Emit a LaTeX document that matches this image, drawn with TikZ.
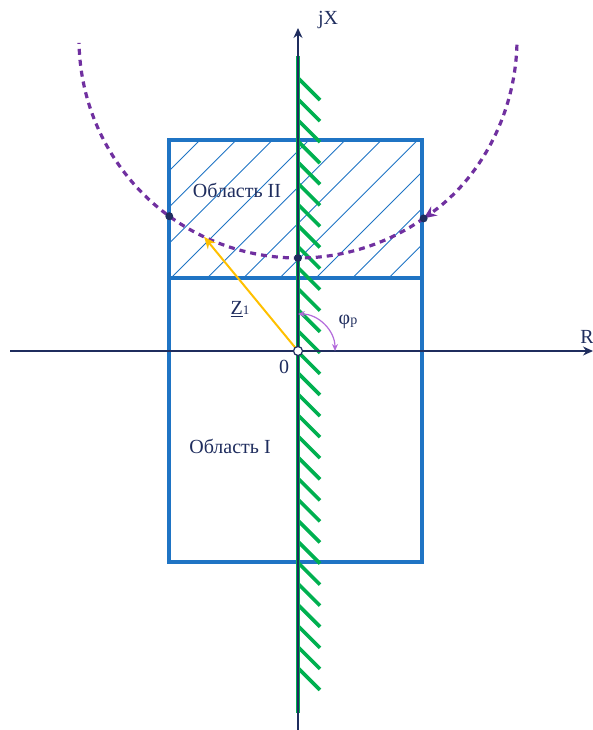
\documentclass[tikz,border=0pt]{standalone}
\usepackage{fontspec}
\setmainfont{Liberation Serif}
\usetikzlibrary{arrows.meta,calc}
\definecolor{navy}{HTML}{1F2D5E}
\definecolor{boxblue}{HTML}{1F74C4}
\definecolor{grn}{HTML}{00B050}
\definecolor{purp}{HTML}{7030A0}
\definecolor{lilac}{HTML}{B36BDB}
\definecolor{gold}{HTML}{FFC000}
\tikzset{
  axisline/.style={draw=navy, line width=1.4pt},
  boxline/.style={draw=boxblue, line width=3.2pt},
  hatchline/.style={draw=boxblue, line width=0.9pt},
  greenline/.style={draw=grn, line width=4pt},
  greenhatch/.style={draw=grn, line width=3.6pt},
  purpdash/.style={draw=purp, line width=3.2pt, dash pattern=on 6pt off 5pt},
  dotpt/.style={circle, fill=navy, inner sep=0pt, minimum size=8pt},
  lbl/.style={text=navy, font=\fontsize{20}{20}\selectfont, inner sep=0pt},
}
\begin{document}
\begin{tikzpicture}[x=1pt,y=-1pt]
\useasboundingbox (0,0) rectangle (593,730);
\coordinate (O) at (298,351);
\coordinate (C) at (298,39);
% hatching in region II
\begin{scope}
\clip (169,140) rectangle (422,278);
\foreach \i in {-5,...,10} \draw[hatchline] ({200+36.3*\i},140) -- ++(-150,150);
\end{scope}
% box
\draw[boxline] (169,140) rectangle (422,562);
\draw[boxline] (169,278) -- (422,278);
% green boundary line and hatches
\draw[greenline] (298,56) -- (298,713);
\foreach \k in {0,...,28} \draw[greenhatch] (298,{78+21.07*\k}) -- ++(22,22);
% axes
\draw[axisline,-{Stealth[length=10pt,width=9pt]}] (10,351) -- (593,351);
\draw[axisline,-{Stealth[length=10pt,width=9pt]}] (298,730) -- (298,28);
\node[lbl] (jx) at (328,20) {jX};
\node[lbl] (r) at (587,337) {R};
\node[lbl] (zero) at (284,367) {0};
% dashed circle arc
\draw[purpdash,-{Stealth[length=13pt,width=11pt]}] (C) ++(1.5:219) arc[start angle=1.5, end angle=55, radius=219];
\draw[purpdash] (C) ++(55:219) arc[start angle=55, end angle=179, radius=219];
\node[dotpt] (p1) at ($(C)+(55:219)$) {};
% Z1 vector
\coordinate (zt) at ($(C)+(115.4:219)$);
\draw[draw=gold, line width=2pt, -{Stealth[length=12pt,width=10pt]}] (O) -- (zt);
% angle phi
\draw[draw=lilac, line width=1.2pt, {Stealth[length=7pt,width=6pt]}-{Stealth[length=7pt,width=6pt]}] (298,314) arc[start angle=-90, end angle=0, radius=37];
\node[lbl] (phi) at (348,322) {φ{\fontsize{14}{14}\selectfont p}};
\node[lbl] (z1) at (240,309) {\underline{Z}{\fontsize{13}{13}\selectfont 1}};
% dots
\node[dotpt] (p2) at ($(C)+(126:219)$) {};
\node[dotpt] (p3) at (298,258) {};
\node[circle, draw=navy, fill=white, line width=1.2pt, inner sep=0pt, minimum size=9pt] (o) at (O) {};
% region labels
\node[lbl] (r2) at (237,190) {Область II};
\node[lbl] (r1) at (230,446) {Область I};
\end{tikzpicture}
\end{document}
